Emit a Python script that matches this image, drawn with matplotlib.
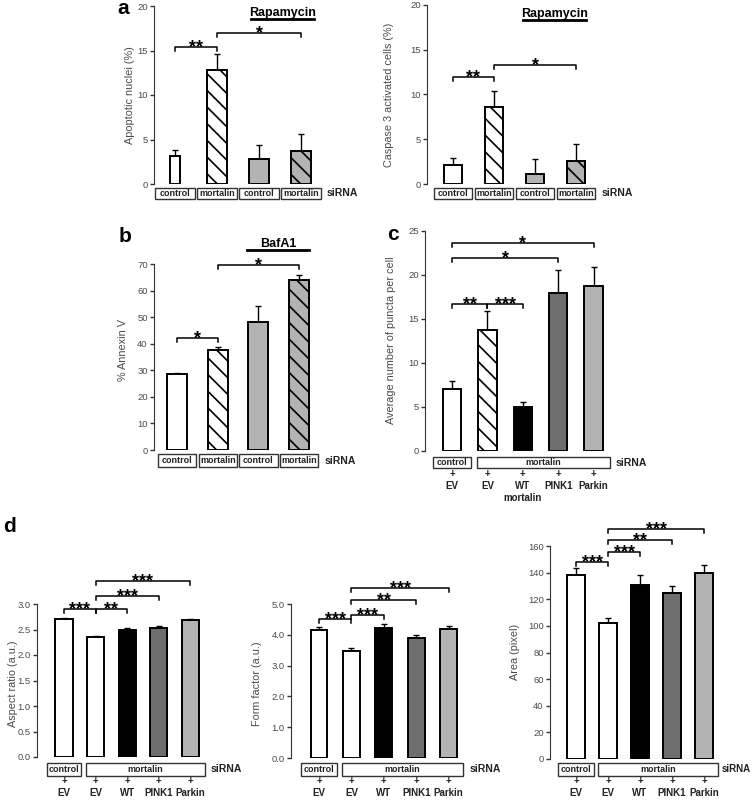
import numpy as np
import matplotlib
matplotlib.use('Agg')
import matplotlib.pyplot as plt
from matplotlib.patches import Rectangle
from matplotlib.transforms import Affine2D, blended_transform_factory

plt.rcParams['font.family'] = ['Liberation Sans', 'DejaVu Sans']
plt.rcParams['hatch.linewidth'] = 1.2

W, H = 752, 800

# ---- data ----
# a (left): apoptotic nuclei
a1_labels = ['control', 'mortalin', 'control', 'mortalin']
a1_values = [3.1, 12.8, 2.8, 3.7]
a1_errors = [0.7, 1.8, 1.6, 1.9]
a1_sig = [('**', 0, 1, 15.4), ('*', 1, 3, 17.0)]

# a (right): caspase 3 activated cells
a2_labels = ['control', 'mortalin', 'control', 'mortalin']
a2_values = [2.1, 8.6, 1.1, 2.6]
a2_errors = [0.8, 1.8, 1.7, 1.9]
a2_sig = [('**', 0, 1, 12.0), ('*', 1, 3, 13.3)]

# b: annexin V
b_labels = ['control', 'mortalin', 'control', 'mortalin']
b_values = [28.5, 37.6, 48.0, 64.0]
b_errors = [0.5, 1.2, 6.3, 2.0]
b_sig = [('*', 0, 1, 42.0), ('*', 1, 3, 69.6)]

# c: puncta per cell
c_constructs = ['EV', 'EV', 'WT\nmortalin', 'PINK1', 'Parkin']
c_values = [7.0, 13.7, 5.0, 17.9, 18.7]
c_errors = [1.0, 2.2, 0.6, 2.7, 2.2]
c_sig = [('**', 0, 1, 16.7), ('***', 1, 2, 16.7), ('*', 0, 3, 21.9), ('*', 0, 4, 23.6)]

# d: mitochondrial morphology
d_constructs = ['EV', 'EV', 'WT', 'PINK1', 'Parkin']
d1_values = [2.70, 2.35, 2.50, 2.53, 2.68]
d1_errors = [0.03, 0.03, 0.03, 0.03, 0.03]
d1_sig = [('***', 0, 1, 2.90), ('**', 1, 2, 2.90), ('***', 1, 3, 3.16), ('***', 1, 4, 3.45)]
d2_values = [4.15, 3.47, 4.23, 3.88, 4.18]
d2_errors = [0.10, 0.10, 0.13, 0.12, 0.12]
d2_sig = [('***', 0, 1, 4.51), ('***', 1, 2, 4.64), ('**', 1, 3, 5.12), ('***', 1, 4, 5.52)]
d3_values = [138, 102.5, 131, 125, 140]
d3_errors = [5.5, 3.5, 7, 5, 5.5]
d3_sig = [('***', 0, 1, 148), ('***', 1, 2, 155.7), ('**', 1, 3, 164.5), ('***', 1, 4, 173)]

# ---- styles ----
GRAY = '#b3b3b3'
DARK = '#6e6e6e'
four_fill = ['white', 'white', GRAY, GRAY]
four_hatch = ['', '\\\\', '', '\\\\']
five_fill = ['white', 'white', 'black', DARK, GRAY]
c_hatch = ['', '\\\\', '', '', '']
d_hatch = ['', '', '', '', '']
TXT = '#4a4a4a'

fig = plt.figure(figsize=(W / 100, H / 100), dpi=100)
# pixel coordinates measured from the top-left corner
px = Affine2D().scale(1 / W, -1 / H).translate(0, 1) + fig.transFigure


def panel(geom, values, errors, yticks, fmt, ylabel, fills, hatches, widths, sig, label_xy):
    axis_x, zero_y, top_y, c0, s, right = geom
    ax = fig.add_axes([axis_x / W, 1 - zero_y / H, (right - axis_x) / W, (zero_y - top_y) / H])
    x = np.arange(len(values))
    ax.set_xlim((axis_x - c0) / s, (right - c0) / s)
    ax.set_ylim(yticks[0], yticks[-1])
    ax.errorbar(x, values, yerr=[np.zeros(len(values)), errors], fmt='none', ecolor='black',
                elinewidth=1, capsize=2, capthick=1, zorder=1)
    bars = ax.bar(x, values, width=widths, color=fills, edgecolor='black', linewidth=1.4, zorder=2)
    for b, h in zip(bars, hatches):
        b.set_hatch(h)
    ax.set_yticks(yticks)
    ax.set_yticklabels([fmt.format(t) for t in yticks])
    ax.tick_params(axis='y', length=3, width=1, labelsize=6.8, labelcolor=TXT, color='#333333', pad=1.5)
    ax.set_xticks([])
    for side in ['top', 'right', 'bottom']:
        ax.spines[side].set_visible(False)
    ax.spines['left'].set_color('#333333')
    ax.set_ylabel(ylabel, fontsize=7.8, color=TXT)
    # label x is given as its centre; the rotated label is anchored on its right edge
    ax.yaxis.set_label_coords((label_xy[0] + 5 - axis_x) / (right - axis_x),
                              (zero_y - label_xy[1]) / (zero_y - top_y))
    unit = (yticks[-1] - yticks[0]) / (zero_y - top_y)
    for stars, i, j, h in sig:
        ax.plot([i, i, j, j], [h - 4 * unit, h, h, h - 4 * unit], color='black', lw=1.1, clip_on=False)
        ax.text((i + j) / 2, h - 5 * unit, stars, ha='center', va='baseline', fontsize=13,
                fontweight='bold', clip_on=False)
    ax.trans = blended_transform_factory(ax.transData, px)
    ax.step = s
    return ax


def box(ax, x0, x1, y0, h, text):
    ax.add_patch(Rectangle((x0, y0), x1 - x0, h, transform=ax.trans, facecolor='white',
                           edgecolor='#333333', lw=1, clip_on=False))
    ax.text((x0 + x1) / 2, y0 + h / 2, text, transform=ax.trans, ha='center', va='center',
            fontsize=6.5, fontweight='bold', color='#222222')


def sirna(ax, x, y, gap=6, size=7.5):
    ax.text(x + gap / ax.step, y, 'siRNA', transform=ax.trans, ha='left', va='center',
            fontsize=size, fontweight='bold', color='#222222')


def single_boxes(ax, labels, y0, h):
    for i, lab in enumerate(labels):
        box(ax, i - 0.47, i + 0.47, y0, h, lab)
    sirna(ax, len(labels) - 1 + 0.47, y0 + h / 2)


def group_boxes(ax, constructs, y0, h, plus_y, name_y, gap=6, size=7.5):
    n = len(constructs)
    box(ax, -0.55, 0.55, y0, h, 'control')
    box(ax, 0.7, n - 1 + 0.45, y0, h, 'mortalin')
    sirna(ax, n - 1 + 0.45, y0 + h / 2, gap, size)
    for i, c in enumerate(constructs):
        ax.text(i, plus_y, '+', transform=ax.trans, ha='center', va='center', fontsize=7,
                fontweight='bold', color='#222222')
        ax.text(i, name_y, c, transform=ax.trans, ha='center', va='top', fontsize=7,
                fontweight='bold', color='#222222', linespacing=1.25)


def treatment(ax, x0, x1, y, text):
    ax.plot([x0, x1], [y, y], color='black', lw=2, clip_on=False)
    ax.text((x0 + x1) / 2, y, text, ha='center', va='bottom', fontsize=9, fontweight='bold',
            clip_on=False)


# a left
ax = panel((154, 184, 6, 175, 42, 322), a1_values, a1_errors, [0, 5, 10, 15, 20], '{:g}',
           'Apoptotic nuclei (%)', four_fill, four_hatch, [0.26, 0.46, 0.46, 0.46], a1_sig, (130, 95))
treatment(ax, 1.8, 3.3, 18.5, 'Rapamycin')
single_boxes(ax, a1_labels, 188, 11)

# a right
ax = panel((427, 184, 5, 453, 41, 596), a2_values, a2_errors, [0, 5, 10, 15, 20], '{:g}',
           'Caspase 3 activated cells (%)', four_fill, four_hatch, 0.46, a2_sig, (389, 95))
treatment(ax, 1.7, 3.25, 18.3, 'Rapamycin')
single_boxes(ax, a2_labels, 188, 11)

# b
ax = panel((154, 450, 264, 177, 40.7, 319), b_values, b_errors, list(range(0, 71, 10)), '{:g}',
           '% Annexin V', four_fill, four_hatch, 0.49, b_sig, (123, 350))
treatment(ax, 1.72, 3.25, 75.4, 'BafA1')
single_boxes(ax, b_labels, 454, 13)

# c
ax = panel((425, 451, 231, 452, 35.4, 611), c_values, c_errors, [0, 5, 10, 15, 20, 25], '{:g}',
           'Average number of puncta per cell', five_fill, c_hatch, 0.52, c_sig, (391, 340))
group_boxes(ax, c_constructs, 457, 11, 474, 481)

# d
ax = panel((37, 757, 604, 64, 31.6, 206), d1_values, d1_errors, [0, 0.5, 1, 1.5, 2, 2.5, 3], '{:.1f}',
           'Aspect ratio (a.u.)', five_fill, d_hatch, 0.55, d1_sig, (13, 684))
group_boxes(ax, d_constructs, 763, 13, 781, 788)

ax = panel((291, 758, 604, 319, 32.4, 465), d2_values, d2_errors, [0, 1, 2, 3, 4, 5], '{:.1f}',
           'Form factor (a.u.)', five_fill, d_hatch, 0.52, d2_sig, (257, 684))
group_boxes(ax, d_constructs, 763, 13, 781, 788)

ax = panel((550, 759, 546, 576, 32, 720), d3_values, d3_errors, list(range(0, 161, 20)), '{:g}',
           'Area (pixel)', five_fill, d_hatch, 0.55, d3_sig, (515, 652))
group_boxes(ax, d_constructs, 763, 13, 781, 788, gap=3, size=7)

# panel letters
for letter, (lx, ly) in zip('abcd', [(123, 8), (125, 236), (393, 234), (10, 527)]):
    fig.text(lx / W, 1 - ly / H, letter, ha='center', va='center', fontsize=15, fontweight='bold')

fig.savefig('out.png', dpi=100, facecolor='white')
